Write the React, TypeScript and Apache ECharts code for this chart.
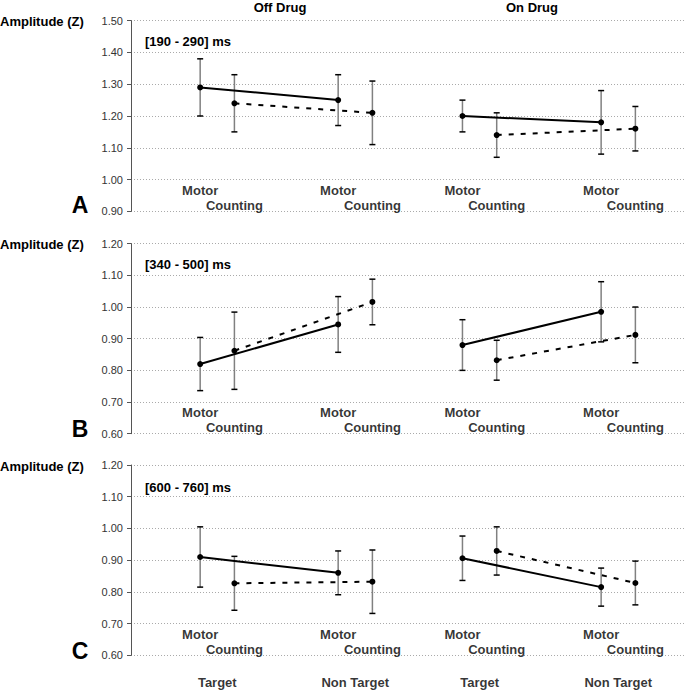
import React, { useEffect, useRef } from "react";
import * as echarts from "echarts";

// Slot order in every panel: Off-Target, Off-NonTarget, On-Target, On-NonTarget
const panelLetters = ["A", "B", "C"];
const timeWindows = ["[190 - 290] ms", "[340 - 500] ms", "[600 - 760] ms"];
const drugConditions = ["Off Drug", "On Drug"];
const stimulusTypes = ["Target", "Non Target"];
const taskNames = ["Motor", "Counting"];
const yAxisTitle = "Amplitude (Z)";

const motorA = [1.29, 1.25, 1.2, 1.18];
const motorAErr = [0.09, 0.08, 0.05, 0.1];
const countingA = [1.24, 1.21, 1.14, 1.16];
const countingAErr = [0.09, 0.1, 0.07, 0.07];

const motorB = [0.82, 0.945, 0.88, 0.985];
const motorBErr = [0.084, 0.088, 0.08, 0.095];
const countingB = [0.862, 1.016, 0.832, 0.912];
const countingBErr = [0.122, 0.072, 0.063, 0.088];

const motorC = [0.91, 0.86, 0.906, 0.815];
const motorCErr = [0.095, 0.069, 0.07, 0.06];
const countingC = [0.827, 0.832, 0.929, 0.828];
const countingCErr = [0.085, 0.1, 0.076, 0.069];

const yMins = [0.9, 0.6, 0.6];
const yMaxs = [1.5, 1.2, 1.2];
const yInterval = 0.1;

const FONT = "'Liberation Sans', Arial, Helvetica, sans-serif";

export default function App() {
  const ref = useRef<HTMLDivElement>(null);
  useEffect(() => {
    if (!ref.current) return;
    const chart = echarts.init(ref.current, undefined, { renderer: "svg" });

    const motorData = [motorA, motorB, motorC];
    const motorErr = [motorAErr, motorBErr, motorCErr];
    const countData = [countingA, countingB, countingC];
    const countErr = [countingAErr, countingBErr, countingCErr];

    // x layout (axis units): slot positions, task offset within slot
    const slotPos = [2.02, 6.05, 9.68, 13.73];
    const taskOffset = [0, 1];
    const xMax = 16.15;

    const gridTops = [20.7, 243.7, 465];
    const gridHeights = [190.6, 190, 190.3];

    const grids = gridTops.map((t, i) => ({ left: 131, right: 0, top: t, height: gridHeights[i] }));
    const xAxes = gridTops.map((_, i) => ({ type: "value", gridIndex: i, min: 0, max: xMax, show: false }));
    const yAxes = gridTops.map((_, i) => ({
      type: "value",
      gridIndex: i,
      min: yMins[i],
      max: yMaxs[i],
      interval: yInterval,
      axisLine: { show: true, lineStyle: { color: "#555", width: 1 } },
      axisTick: { show: true, length: 4, lineStyle: { color: "#555" } },
      axisLabel: {
        fontSize: 11,
        color: "#333",
        fontFamily: FONT,
        margin: 8,
        formatter: (v: number) => v.toFixed(2),
      },
      splitLine: { show: true, lineStyle: { color: "#aaa", width: 1, type: [1, 2] } },
    }));

    const series: any[] = [];
    for (let p = 0; p < 3; p++) {
      const sets = [
        { vals: motorData[p], errs: motorErr[p], dash: "solid" as any },
        { vals: countData[p], errs: countErr[p], dash: [5, 7] as any },
      ];
      // error bars
      const ebData: number[][] = [];
      sets.forEach((s, t) => {
        s.vals.forEach((v, k) => {
          ebData.push([slotPos[k] + taskOffset[t], v - s.errs[k], v + s.errs[k]]);
        });
      });
      series.push({
        type: "custom",
        xAxisIndex: p,
        yAxisIndex: p,
        silent: true,
        z: 2,
        encode: { x: 0, y: [1, 2] },
        data: ebData,
        renderItem: (params: any, api: any) => {
          const x = api.value(0);
          const lo = api.coord([x, api.value(1)]);
          const hi = api.coord([x, api.value(2)]);
          const cap = 3;
          return {
            type: "group",
            children: [
              { type: "line", shape: { x1: lo[0], y1: lo[1], x2: hi[0], y2: hi[1] }, style: { stroke: "#808080", lineWidth: 1.5 } },
              { type: "line", shape: { x1: hi[0] - cap, y1: hi[1], x2: hi[0] + cap, y2: hi[1] }, style: { stroke: "#000", lineWidth: 1.5 } },
              { type: "line", shape: { x1: lo[0] - cap, y1: lo[1], x2: lo[0] + cap, y2: lo[1] }, style: { stroke: "#000", lineWidth: 1.5 } },
            ],
          };
        },
      });
      // lines per task per drug condition
      sets.forEach((s, t) => {
        for (let c = 0; c < 2; c++) {
          const k0 = c * 2;
          const k1 = c * 2 + 1;
          series.push({
            type: "line",
            xAxisIndex: p,
            yAxisIndex: p,
            silent: true,
            z: 3,
            symbol: "circle",
            symbolSize: 6,
            itemStyle: { color: "#000" },
            lineStyle: { color: "#000", width: 2, type: s.dash },
            data: [
              [slotPos[k0] + taskOffset[t], s.vals[k0]],
              [slotPos[k1] + taskOffset[t], s.vals[k1]],
            ],
          });
        }
      });
      // task labels
      const labelData: any[] = [];
      slotPos.forEach((sp) => {
        taskNames.forEach((tn, t) => {
          labelData.push({
            value: [sp + taskOffset[t], yMins[p]],
            name: tn,
            label: { offset: [0, t === 0 ? -21 : -6] },
          });
        });
      });
      if (p === 2) {
        slotPos.forEach((sp, k) => {
          labelData.push({
            value: [sp + 0.5, yMins[p]],
            name: stimulusTypes[k % 2],
            label: { offset: [0, 27] },
          });
        });
      }
      series.push({
        type: "scatter",
        xAxisIndex: p,
        yAxisIndex: p,
        silent: true,
        clip: false,
        z: 4,
        symbolSize: 1,
        itemStyle: { color: "rgba(0,0,0,0)" },
        label: {
          show: true,
          position: "inside",
          formatter: "{b}",
          color: "#000",
          fontWeight: "bold",
          fontSize: 13,
          fontFamily: FONT,
        },
        data: labelData,
      });
    }

    const txt = (text: string, x: number, y: number, size: number, align = "left") => ({
      type: "text",
      x,
      y,
      silent: true,
      style: {
        text,
        fill: "#000",
        font: `bold ${size}px ${FONT}`,
        align,
        verticalAlign: "middle",
        textAlign: align,
        textVerticalAlign: "middle",
      },
    });

    const graphics: any[] = [
      txt(drugConditions[0], 280, 7, 13, "center"),
      txt(drugConditions[1], 532, 7, 13, "center"),
    ];
    const windowY = [41, 264, 487];
    const letterY = [205, 429, 651];
    for (let p = 0; p < 3; p++) {
      graphics.push(txt(yAxisTitle, 0, gridTops[p] + 1, 13, "left"));
      graphics.push(txt(timeWindows[p], 145, windowY[p], 13, "left"));
      graphics.push(txt(panelLetters[p], 80, letterY[p], 23, "center"));
    }

    chart.setOption({
      animation: false,
      backgroundColor: "#fff",
      grid: grids,
      xAxis: xAxes,
      yAxis: yAxes,
      series,
      graphic: graphics,
    });
    return () => chart.dispose();
  }, []);
  return (
    <div
      ref={ref}
      style={{ position: "fixed", left: 0, top: 0, width: 684, height: 690 }}
    />
  );
}
